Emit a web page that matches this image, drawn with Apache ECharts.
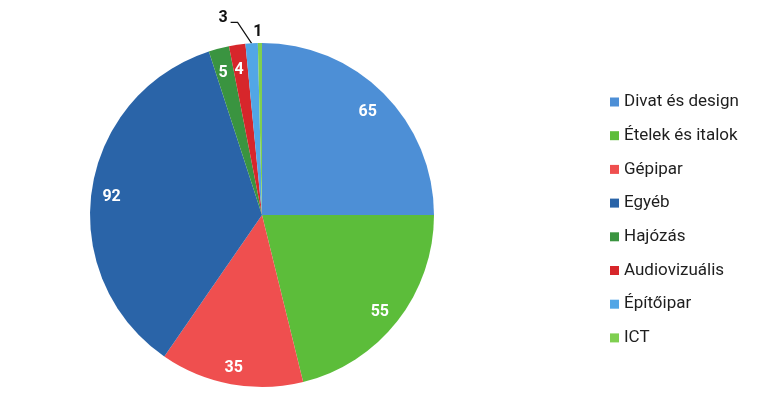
<!DOCTYPE html>
<html>
<head>
<meta charset="utf-8">
<script src="https://cdn.jsdelivr.net/npm/echarts@6/dist/echarts.min.js"></script>
<style>
  html, body { margin: 0; padding: 0; background: #fff; }
  #chart { width: 770px; height: 420px; }
</style>
</head>
<body>
<div id="chart"></div>
<script>
// Chart data
const categories = ['Divat és design', 'Ételek és italok', 'Gépipar', 'Egyéb', 'Hajózás', 'Audiovizuális', 'Építőipar', 'ICT'];
const values = [65, 55, 35, 92, 5, 4, 3, 1];
const colors = ['#4d8fd6', '#5cbd3a', '#ef4f4f', '#2a64a8', '#3a9440', '#d7262b', '#52a6e6', '#7fcf50'];

const FONT = 'Roboto, "Noto Sans", sans-serif';
const CX = 262, CY = 215, R = 172;

const chart = echarts.init(document.getElementById('chart'));

// small slices get their label outside the pie
function outsideLabel(i) {
    if (i === 6) {
        return {
            label: { show: true, position: 'outside', formatter: '{c}', color: '#111', fontSize: 16, fontWeight: 'bold' },
            labelLine: { show: true, length: 10, length2: 7, lineStyle: { color: '#111', width: 1.2 } }
        };
    }
    if (i === 7) {
        return {
            label: { show: true, position: 'outside', formatter: '{c}', color: '#111', fontSize: 16, fontWeight: 'bold' },
            labelLine: { show: false, length: 2, length2: 0 }
        };
    }
    return { label: { show: false } };
}

const option = {
    animation: false,
    backgroundColor: '#fff',
    color: colors,
    legend: {
        orient: 'vertical',
        left: 605,
        top: 87,
        itemWidth: 9,
        itemHeight: 9,
        itemGap: 13.7,
        icon: 'rect',
        data: categories,
        textStyle: { fontFamily: FONT, fontSize: 17, color: '#1e1e1e', lineHeight: 20 }
    },
    series: [
        {
            // the pie itself
            type: 'pie',
            center: [CX, CY],
            radius: [0, R],
            startAngle: 90,
            clockwise: true,
            avoidLabelOverlap: false,
            silent: true,
            data: categories.map((c, i) => Object.assign({ name: c, value: values[i] }, outsideLabel(i))),
            label: { fontFamily: FONT },
            labelLayout: function (p) {
                const pts = p.labelLinePoints;
                if (p.dataIndex === 6 && pts) {
                    // bend the leader line up and to the left like the original
                    const a = pts[0];
                    const b = [a[0] - 14, a[1] - 21];
                    const c = [b[0] - 7, b[1]];
                    return { x: c[0] - 3, y: c[1] - 4, align: 'right', verticalAlign: 'middle', labelLinePoints: [a, b, c] };
                }
                if (p.dataIndex === 7) {
                    return { x: p.rect.x + p.rect.width / 2 - 2, y: 32, align: 'center', verticalAlign: 'middle' };
                }
                return {};
            }
        },
        {
            // transparent ring used only to place the inner value labels nearer the rim
            type: 'pie',
            name: 'labels',
            center: [CX, CY],
            radius: [124, R],
            startAngle: 90,
            clockwise: true,
            silent: true,
            legendHoverLink: false,
            itemStyle: { color: 'transparent' },
            data: categories.map((c, i) => ({
                name: c,
                value: values[i],
                label: { show: values[i] >= 4 }
            })),
            label: {
                position: 'inside',
                formatter: '{c}',
                color: '#fff',
                fontFamily: FONT,
                fontSize: 16,
                fontWeight: 'bold',
                offset: [-1, 4]
            },
            labelLine: { show: false }
        }
    ]
};

chart.setOption(option);
</script>
</body>
</html>
